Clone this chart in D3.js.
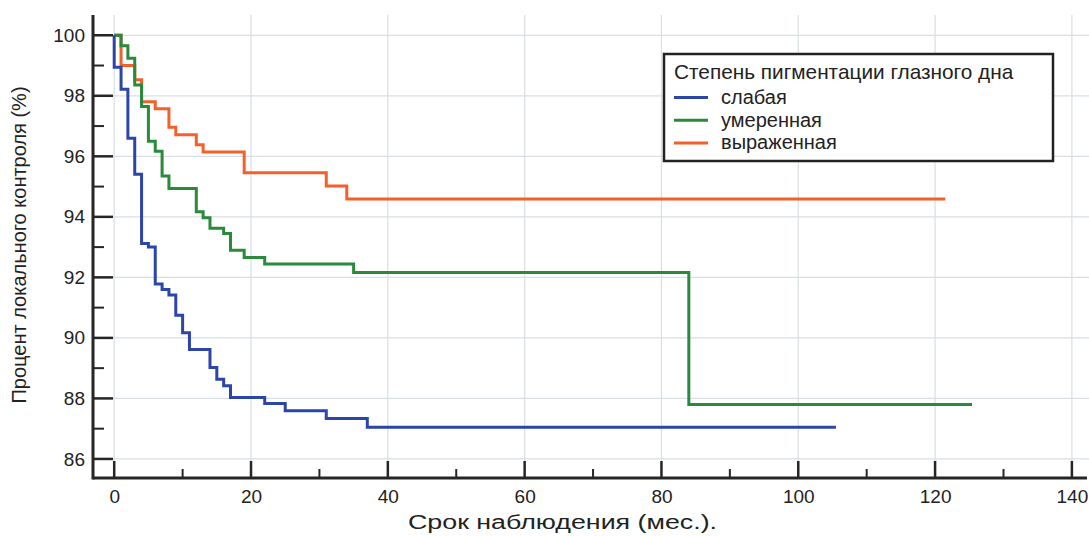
<!DOCTYPE html>
<html><head><meta charset="utf-8">
<script src="https://cdn.jsdelivr.net/npm/d3@7"></script>
<style>body{margin:0;background:#fff}svg{display:block;font-family:"Liberation Sans",Arial,sans-serif}</style>
</head><body><svg id="c" width="1089" height="536"></svg>
<script>
// Data: Kaplan–Meier step curves (time in months, % local control)
const seriesNames = ["слабая", "умеренная", "выраженная"];
const seriesColors = ["#2b45a8", "#2a8a3c", "#f4602a"];
const weakTimes   = [0, 0, 1, 2, 3, 4, 5, 6, 7, 8, 9, 10, 11, 14, 15, 16, 17, 22, 25, 31, 37, 105.5];
const weakValues  = [100, 98.94, 98.22, 96.6, 95.41, 93.12, 93.0, 91.78, 91.6, 91.42, 90.75, 90.17, 89.62, 89.02, 88.63, 88.42, 88.03, 87.83, 87.59, 87.34, 87.05, 87.05];
const modTimes    = [0, 1, 2, 3, 4, 5, 6, 7, 8, 12, 13, 14, 16, 17, 19, 22, 35, 84, 125.4];
const modValues   = [100, 99.65, 99.24, 98.36, 97.65, 96.5, 96.17, 95.35, 94.94, 94.17, 93.97, 93.62, 93.45, 92.9, 92.66, 92.44, 92.16, 87.8, 87.8];
const strongTimes = [0, 1, 3, 4, 6, 8, 9, 12, 13, 19, 31, 34, 121.5];
const strongValues= [100, 99.0, 98.53, 97.8, 97.57, 96.96, 96.71, 96.38, 96.14, 95.46, 95.02, 94.59, 94.59];
const xTicks = [0, 20, 40, 60, 80, 100, 120, 140];
const xMinor = [10, 30, 50, 70, 90, 110, 130];
const yTicks = [86, 88, 90, 92, 94, 96, 98, 100];
const yMinor = [87, 89, 91, 93, 95, 97, 99];
const legendTitle = "Степень пигментации глазного дна";
const xTitle = "Срок наблюдения (мес.).";
const yTitle = "Процент локального контроля (%)";

const svg = d3.select("#c");
const x = d3.scaleLinear().domain([-3.1, 142.5]).range([93, 1089]);
const y = d3.scaleLinear().domain([85.37, 100.67]).range([478, 15]);
const axisColor = "#262626";

// gridlines
const g = svg.append("g");
g.selectAll(".vg").data(xTicks).join("line")
  .attr("x1", d => x(d)).attr("x2", d => x(d)).attr("y1", 15).attr("y2", 478)
  .attr("stroke", "#d9dfe3").attr("stroke-width", 1.2);
g.selectAll(".hg").data(yTicks).join("line")
  .attr("x1", 93).attr("x2", 1089).attr("y1", d => y(d)).attr("y2", d => y(d))
  .attr("stroke", "#d9dfe3").attr("stroke-width", 1.2);

// curves
const series = [
  {t: weakTimes, v: weakValues},
  {t: modTimes, v: modValues},
  {t: strongTimes, v: strongValues}
];
const line = d3.line().x(d => x(d[0])).y(d => y(d[1])).curve(d3.curveStepAfter);
[2, 1, 0].forEach(i => {
  const s = series[i];
  const pts = s.t.map((t, k) => [t, s.v[k]]);
  svg.append("path").attr("d", line(pts)).attr("fill", "none")
    .attr("stroke", seriesColors[i]).attr("stroke-width", 3).attr("stroke-linejoin", "miter");
});

// axes
const xAxis = d3.axisBottom(x).tickValues(xTicks).tickSize(0).tickPadding(12).tickFormat(d3.format("d"));
const xa = svg.append("g").attr("transform", "translate(0,478)").call(xAxis);
xa.select(".domain").remove();
xa.selectAll("text").attr("font-size", 19).attr("fill", "#222").attr("font-family", "Liberation Sans, Arial, sans-serif");
svg.append("line").attr("x1", 93).attr("x2", 1087).attr("y1", 478).attr("y2", 478).attr("stroke", axisColor).attr("stroke-width", 3);
svg.selectAll(".xt").data(xTicks).join("line").attr("x1", d => x(d)).attr("x2", d => x(d))
  .attr("y1", 478).attr("y2", 461).attr("stroke", axisColor).attr("stroke-width", 2.5);
svg.selectAll(".xm").data(xMinor).join("line").attr("x1", d => x(d)).attr("x2", d => x(d))
  .attr("y1", 478).attr("y2", 469).attr("stroke", axisColor).attr("stroke-width", 2);

const yAxis = d3.axisLeft(y).tickValues(yTicks).tickSize(0).tickPadding(8).tickFormat(d3.format("d"));
const ya = svg.append("g").attr("transform", "translate(93,0)").call(yAxis);
ya.select(".domain").remove();
ya.selectAll("text").attr("font-size", 19).attr("fill", "#222").attr("font-family", "Liberation Sans, Arial, sans-serif");
svg.append("line").attr("x1", 93).attr("x2", 93).attr("y1", 15).attr("y2", 479.5).attr("stroke", axisColor).attr("stroke-width", 3);
svg.selectAll(".yt").data(yTicks).join("line").attr("x1", 93).attr("x2", 113)
  .attr("y1", d => y(d)).attr("y2", d => y(d)).attr("stroke", axisColor).attr("stroke-width", 2.5);
svg.selectAll(".ym").data(yMinor).join("line").attr("x1", 93).attr("x2", 104)
  .attr("y1", d => y(d)).attr("y2", d => y(d)).attr("stroke", axisColor).attr("stroke-width", 2);

// axis titles
svg.append("text").attr("x", 408).attr("y", 529)
  .attr("textLength", 309).attr("lengthAdjust", "spacingAndGlyphs")
  .attr("font-size", 20).attr("fill", "#222").text(xTitle);
svg.append("text").attr("transform", "translate(26,245) rotate(-90)").attr("text-anchor", "middle")
  .attr("font-size", 20).attr("fill", "#222").text(yTitle);

// legend
const lg = svg.append("g");
lg.append("rect").attr("x", 664).attr("y", 54).attr("width", 389).attr("height", 107)
  .attr("fill", "#fff").attr("stroke", "#222").attr("stroke-width", 2.5);
lg.append("text").attr("x", 674).attr("y", 79).attr("font-size", 20.8).attr("fill", "#222").text(legendTitle);
seriesNames.forEach((n, i) => {
  const yy = 97.5 + i * 22.7;
  lg.append("line").attr("x1", 674).attr("x2", 708).attr("y1", yy).attr("y2", yy)
    .attr("stroke", seriesColors[i]).attr("stroke-width", 3);
  lg.append("text").attr("x", 721).attr("y", yy + 6.5).attr("font-size", 20).attr("fill", "#222").text(n);
});
</script></body></html>
